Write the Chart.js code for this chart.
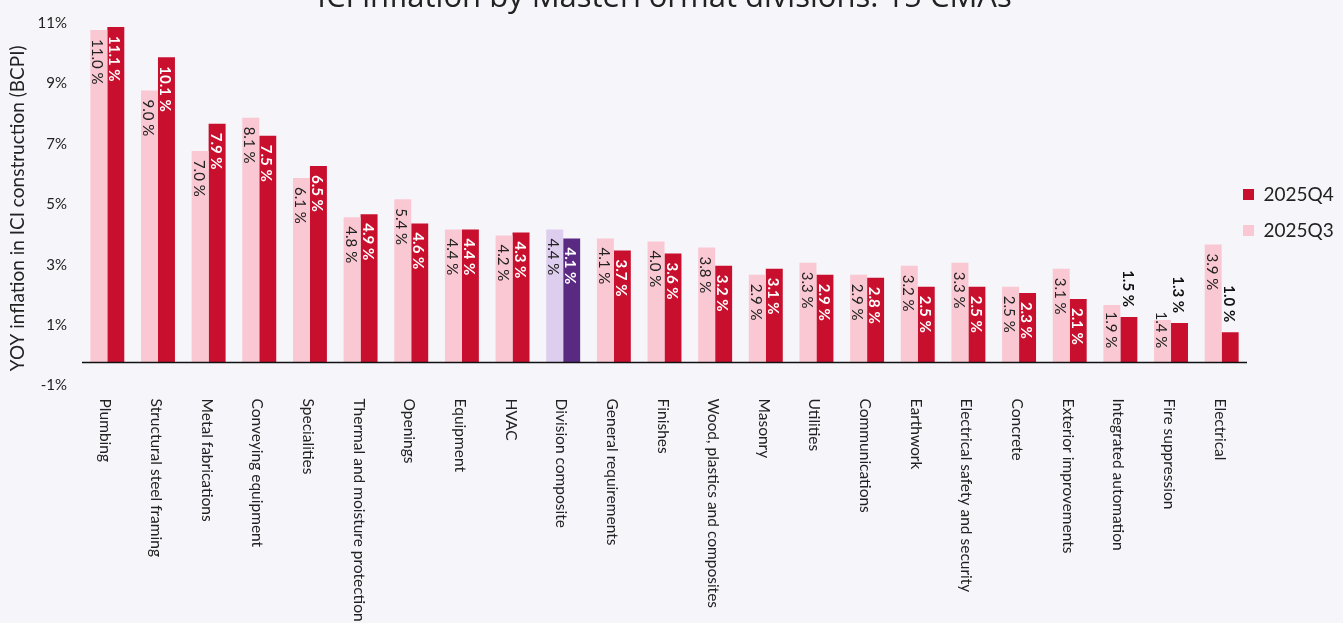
<!DOCTYPE html>
<html>
<head>
<meta charset="utf-8">
<script src="https://cdn.jsdelivr.net/npm/chart.js@4/dist/chart.umd.min.js"></script>
<style>
html,body{margin:0;padding:0;background:#f6f5fa;overflow:hidden}
#wrap{position:relative;width:1343px;height:623px}
</style>
</head>
<body>
<div id="wrap"><canvas id="c"></canvas></div>
<script>
// ---- data ----
const categories = ['Plumbing','Structural steel framing','Metal fabrications','Conveying equipment','Specialities','Thermal and moisture protection','Openings','Equipment','HVAC','Division composite','General requirements','Finishes','Wood, plastics and composites','Masonry','Utilities','Communications','Earthwork','Electrical safety and security','Concrete','Exterior improvements','Integrated automation','Fire suppression','Electrical'];
const q3Values = [11.0, 9.0, 7.0, 8.1, 6.1, 4.8, 5.4, 4.4, 4.2, 4.4, 4.1, 4.0, 3.8, 2.9, 3.3, 2.9, 3.2, 3.3, 2.5, 3.1, 1.9, 1.4, 3.9];
const q4Values = [11.1, 10.1, 7.9, 7.5, 6.5, 4.9, 4.6, 4.4, 4.3, 4.1, 3.7, 3.6, 3.2, 3.1, 2.9, 2.8, 2.5, 2.5, 2.3, 2.1, 1.5, 1.3, 1.0];
const seriesNames = ['2025Q3', '2025Q4'];
const yTickValues = [-1, 1, 3, 5, 7, 9, 11];
const highlightCategory = 'Division composite';
const titleText = 'ICI inflation by MasterFormat divisions: 15 CMAs';
const yAxisTitle = 'YOY inflation in ICI construction (BCPI)';

// ---- styles ----
const FONT = 'Lato';
const TEXT = '#222222';
const q3Color = '#fac8d2', q4Color = '#c8102e';
const q3Hi = '#ddcdee', q4Hi = '#5a2a82';
const q3Colors = categories.map(c => c === highlightCategory ? q3Hi : q3Color);
const q4Colors = categories.map(c => c === highlightCategory ? q4Hi : q4Color);
const LEGEND_W = 96;

const zeroLine = {
  id: 'zeroLine',
  afterDatasetsDraw(chart) {
    const {ctx, chartArea, scales} = chart;
    const y = scales.y.getPixelForValue(0);
    ctx.save();
    ctx.strokeStyle = '#111';
    ctx.lineWidth = 1.5;
    ctx.beginPath();
    ctx.moveTo(chartArea.left, y);
    ctx.lineTo(chartArea.right, y);
    ctx.stroke();
    ctx.restore();
  }
};

const barLabels = {
  id: 'barLabels',
  afterDatasetsDraw(chart) {
    const ctx = chart.ctx;
    chart.data.datasets.forEach((ds, di) => {
      const meta = chart.getDatasetMeta(di);
      const isQ4 = di === 1;
      meta.data.forEach((bar, i) => {
        const v = ds.data[i];
        const text = v.toFixed(1) + ' %';
        const outside = isQ4 && v < 1.8;
        ctx.save();
        ctx.font = (isQ4 ? 'bold ' : '') + '15px ' + FONT;
        const tw = ctx.measureText(text).width;
        ctx.fillStyle = outside ? '#111' : (isQ4 ? '#ffffff' : TEXT);
        let y0;
        if (outside) y0 = bar.y - 10;
        else y0 = Math.min(bar.y + 9, bar.base - 14 - tw);
        ctx.translate(bar.x, y0);
        ctx.rotate(Math.PI / 2);
        ctx.textAlign = outside ? 'right' : 'left';
        ctx.textBaseline = 'middle';
        ctx.fillText(text, 0, 1.5);
        ctx.restore();
      });
    });
  }
};

const xLabels = {
  id: 'xLabels',
  afterDraw(chart) {
    const ctx = chart.ctx;
    const xs = chart.scales.x;
    const labels = chart.data.labels;
    ctx.save();
    ctx.font = '15.5px ' + FONT;
    ctx.fillStyle = TEXT;
    labels.forEach((lab, i) => {
      ctx.save();
      ctx.translate(xs.getPixelForTick(i), xs.top + 6);
      ctx.rotate(Math.PI / 2);
      ctx.textAlign = 'left';
      ctx.textBaseline = 'middle';
      ctx.fillText(lab, 0, 2);
      ctx.restore();
    });
    ctx.restore();
  }
};

const legendPlace = {
  id: 'legendPlace',
  afterLayout(chart) {
    const lg = chart.legend;
    const pad = lg.options.labels.padding;
    const w = lg.width, h = lg.height;
    lg.left = chart.chartArea.right - 4 - pad;
    lg.right = lg.left + w;
    lg.top = chart.chartArea.top + 144;
    lg.bottom = lg.top + h;
  }
};

const chart = new Chart(document.getElementById('c'), {
  type: 'bar',
  data: {
    labels: categories,
    datasets: [
      { label: seriesNames[0], data: q3Values, backgroundColor: q3Colors, borderWidth: 0, barPercentage: 1, categoryPercentage: 0.67 },
      { label: seriesNames[1], data: q4Values, backgroundColor: q4Colors, borderWidth: 0, barPercentage: 1, categoryPercentage: 0.67 }
    ]
  },
  options: {
    responsive: true,
    maintainAspectRatio: false,
    animation: false,
    devicePixelRatio: 1,
    layout: { padding: { left: 0, top: 0, bottom: 0, right: 0 } },
    plugins: {
      title: {
        display: true, text: titleText, fullSize: false,
        font: { family: 'Open Sans', size: 31, weight: 'normal' }, color: TEXT,
        padding: { top: -25.1, bottom: 7.2 }
      },
      legend: {
        position: 'right', align: 'start', reverse: true,
        labels: {
          boxWidth: 11, boxHeight: 11, padding: 17, color: TEXT,
          font: { family: FONT, size: 19 },
          generateLabels(chart) {
            return chart.data.datasets.map((ds, i) => ({
              text: ds.label,
              fillStyle: i === 0 ? q3Color : q4Color,
              strokeStyle: i === 0 ? q3Color : q4Color,
              lineWidth: 0, hidden: false, datasetIndex: i, fontColor: TEXT
            }));
          }
        }
      },
      tooltip: { enabled: false }
    },
    scales: {
      x: {
        grid: { display: false, drawTicks: false },
        border: { display: false },
        ticks: { display: false },
        afterFit(scale) { scale.height = 230.4; }
      },
      y: {
        min: -1, max: 11.2,
        grid: { display: false, drawTicks: false },
        border: { display: false },
        afterBuildTicks(axis) { axis.ticks = yTickValues.map(v => ({ value: v })); },
        afterFit(scale) { scale.width = 82; },
        ticks: {
          callback: v => v + '%',
          font: { family: FONT, size: 15 }, color: TEXT,
          padding: 15, labelOffset: -7
        },
        title: {
          display: true, text: yAxisTitle,
          font: { family: FONT, size: 19 }, color: TEXT,
          padding: { top: 6, bottom: 9 }
        }
      }
    }
  },
  plugins: [zeroLine, barLabels, xLabels, legendPlace]
});
// let the legend overhang the right padding so the plot keeps its width
chart.options.layout.padding.right = LEGEND_W - chart.legend.width;
chart.update();
</script>
</body>
</html>
